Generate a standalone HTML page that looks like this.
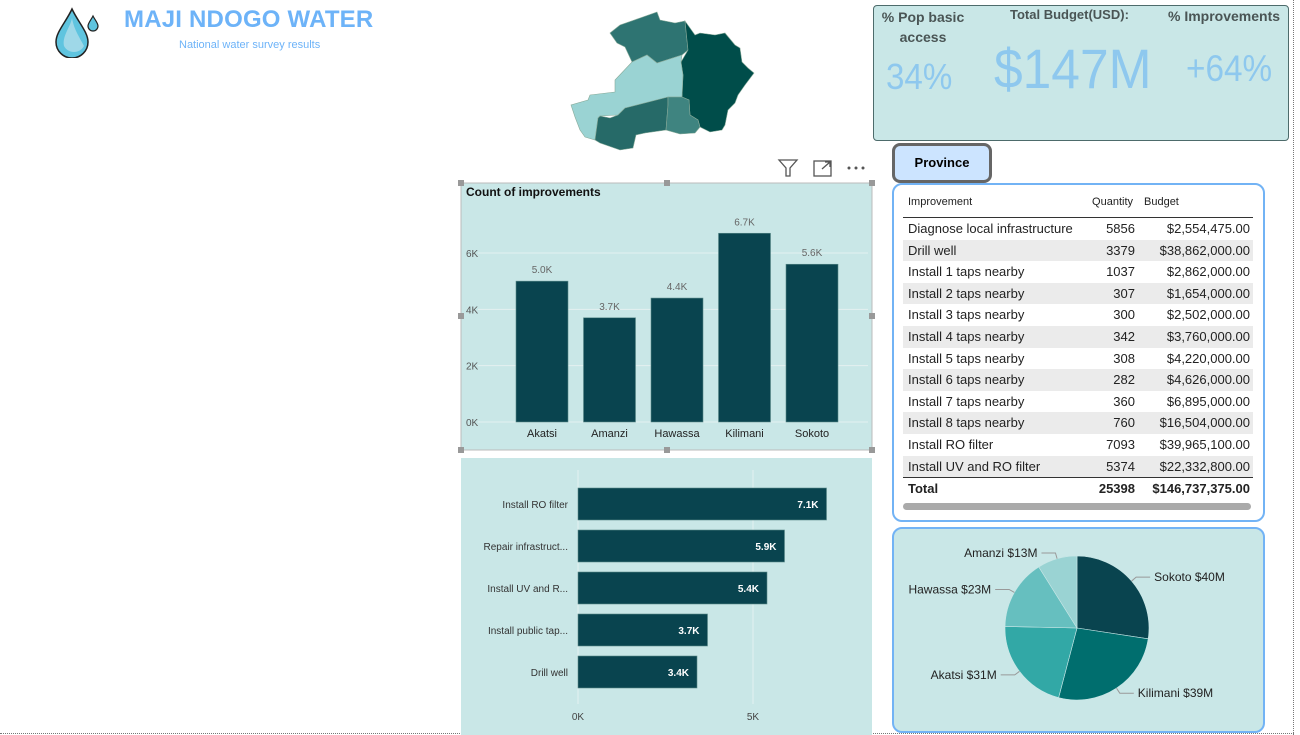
<!DOCTYPE html>
<html><head><meta charset="utf-8">
<style>
body{margin:0;width:1300px;height:735px;background:#fff;position:relative;overflow:hidden;font-family:"Liberation Sans",sans-serif;}
.abs{position:absolute}
</style></head>
<body>
<div class="abs" style="left:1293px;top:0;height:735px;border-left:1px dotted #777"></div>
<div class="abs" style="left:0;top:733px;width:1294px;border-top:1px dotted #777"></div>

<svg class="abs" style="left:50px;top:6px" width="52" height="52" viewBox="0 0 52 52">
<path d="M22 3 C16 16 6 26 6 36 A16 16 0 0 0 38 36 C38 26 28 16 22 3Z" fill="#5fc4df" stroke="#222" stroke-width="1.5"/>
<path d="M22 12 C20 22 12 30 14 40 C18 48 30 48 34 40 C30 32 24 24 22 12Z" fill="#9fd8e8"/>
<path d="M43 10 C41 14 38 17 38 20 A5 5 0 0 0 48 20 C48 17 45 14 43 10Z" fill="#5fc4df" stroke="#222" stroke-width="1.2"/>
</svg>
<div class="abs" style="left:124px;top:6px;font-size:24px;font-weight:bold;color:#6db3f8;letter-spacing:0.2px">MAJI NDOGO WATER</div>
<div class="abs" style="left:179px;top:39px;font-size:11px;color:#6db3f8">National water survey results</div>

<svg class="abs" style="left:0;top:0" width="800" height="160">
<g stroke="#8a9" stroke-width="0.6">
<polygon fill="#2e7472" points="610,33 620,25 640,18 657,12 660,20 675,23 685,21 688,50 682,55 657,63 647,55 632,62 625,47 617,43"/>
<polygon fill="#004d4a" points="685,21 695,35 700,33 715,35 725,33 735,45 740,48 742,62 748,68 754,73 745,85 738,95 735,103 728,110 725,125 722,130 710,132 700,127 698,120 690,115 689,100 682,97 683,75 681,62 688,50"/>
<polygon fill="#9ad3d3" points="682,55 681,62 683,75 682,97 668,97 668,105 625,108 618,115 600,116 598,118 595,140 585,137 580,130 575,117 571,105 588,100 590,95 615,92 615,80 632,62 647,55 657,63"/>
<polygon fill="#266a68" points="668,97 668,105 666,130 645,133 636,135 633,148 620,150 600,143 595,140 598,118 600,116 610,118 618,115 625,108"/>
<polygon fill="#3f8480" points="668,97 682,97 689,100 690,115 698,120 700,127 695,133 680,134 666,130 668,105"/>
</g>
</svg>

<div class="abs" style="left:873px;top:5px;width:414px;height:134px;background:#c9e7e7;border:1px solid #4d6b6b;border-radius:4px"></div>
<div class="abs" style="left:878px;top:7px;width:90px;font-size:14px;font-weight:bold;color:#4a5555;text-align:center;line-height:20px">% Pop basic access</div>
<div class="abs" style="left:1010px;top:7px;font-size:13px;font-weight:bold;color:#4a5555">Total Budget(USD):</div>
<div class="abs" style="left:1168px;top:8px;font-size:14px;font-weight:bold;color:#4a5555">% Improvements</div>
<div class="abs" style="left:886px;top:56px;font-size:36px;color:#8ec8ee;transform:scaleX(0.92);transform-origin:left">34%</div>
<div class="abs" style="left:994px;top:36px;font-size:56px;color:#8ec8ee;transform:scaleX(0.92);transform-origin:left">$147M</div>
<div class="abs" style="left:1186px;top:48px;font-size:37px;color:#8ec8ee;transform:scaleX(0.9);transform-origin:left">+64%</div>

<div class="abs" style="left:892px;top:143px;width:94px;height:34px;background:#cce4ff;border:3px solid #666;border-radius:8px;font-size:13px;font-weight:bold;text-align:center;line-height:34px;color:#000">Province</div>

<div class="abs" style="left:892px;top:183px;width:369px;height:335px;border:2px solid #72b3f5;border-radius:10px;background:#fff"></div>
<div id="tbl" class="abs" style="left:903px;top:190px;width:350px;font-size:13px;color:#222"></div>
<div class="abs" style="left:903px;top:503px;width:348px;height:7px;background:#aaa;border-radius:4px"></div>

<div class="abs" style="left:892px;top:527px;width:369px;height:202px;background:#c9e7e7;border:2px solid #72b3f5;border-radius:10px"></div>
<svg id="pie" class="abs" style="left:0;top:0" width="1300" height="735"></svg>

<div class="abs" style="left:776px;top:157px;width:100px;height:22px">
<svg width="100" height="22">
<path d="M3 3 H21 L14 11 V19 L10 19 V11 Z" fill="none" stroke="#555" stroke-width="1.3"/>
<g fill="none" stroke="#555" stroke-width="1.3"><rect x="38" y="4" width="17" height="15"/><path d="M46 12 L54 5 M49 5 H54 V10"/></g>
<g fill="#555"><circle cx="73" cy="11" r="1.5"/><circle cx="80" cy="11" r="1.5"/><circle cx="87" cy="11" r="1.5"/></g>
</svg></div>

<svg id="col" class="abs" style="left:0;top:0" width="1300" height="735"></svg>
<svg id="bar" class="abs" style="left:0;top:0" width="1300" height="735"></svg>

<script>
const NS="http://www.w3.org/2000/svg";
function mk(p,tag,a){const e=document.createElementNS(NS,tag);for(const k in a)e.setAttribute(k,a[k]);p.appendChild(e);return e;}
const FONT='"Liberation Sans",sans-serif';

// ---- Column chart data
const colCategories=["Akatsi","Amanzi","Hawassa","Kilimani","Sokoto"];
const colValues=[5.0,3.7,4.4,6.7,5.6];
const colLabels=["5.0K","3.7K","4.4K","6.7K","5.6K"];
const colTicks=[0,2,4,6];
const colTickLabels=["0K","2K","4K","6K"];

// ---- Bar chart data
const barCategories=["Install RO filter","Repair infrastruct...","Install UV and R...","Install public tap...","Drill well"];
const barValues=[7.1,5.9,5.4,3.7,3.4];
const barLabels=["7.1K","5.9K","5.4K","3.7K","3.4K"];
const barTicks=[0,5];
const barTickLabels=["0K","5K"];

// ---- Pie data
const pieCategories=["Sokoto","Kilimani","Akatsi","Hawassa","Amanzi"];
const pieValues=[40,39,31,23,13];
const pieLabels=["Sokoto $40M","Kilimani $39M","Akatsi $31M","Hawassa $23M","Amanzi $13M"];
const pieColors=["#09444f","#006e6e","#32a8a6","#66bfbf","#9ad3d3"];

// ---- Table data
const tblNames=["Diagnose local infrastructure","Drill well","Install 1 taps nearby","Install 2 taps nearby","Install 3 taps nearby","Install 4 taps nearby","Install 5 taps nearby","Install 6 taps nearby","Install 7 taps nearby","Install 8 taps nearby","Install RO filter","Install UV and RO filter"];
const tblQty=[5856,3379,1037,307,300,342,308,282,360,760,7093,5374];
const tblBudget=["$2,554,475.00","$38,862,000.00","$2,862,000.00","$1,654,000.00","$2,502,000.00","$3,760,000.00","$4,220,000.00","$4,626,000.00","$6,895,000.00","$16,504,000.00","$39,965,100.00","$22,332,800.00"];

// Column chart
(function(){
const s=document.getElementById('col');
const bg=mk(s,'rect',{x:461,y:183,width:411,height:267,fill:'#c9e7e7',stroke:'#bbb'});


const t=mk(s,'text',{x:466,y:196,'font-size':12,'font-weight':'bold','font-family':FONT,fill:'#111'});t.textContent='Count of improvements';


const y0=422,kpx=28.17;const Y=v=>y0-v*kpx;
colTicks.forEach((v,i)=>{
 const g=mk(s,'line',{x1:478,x2:868,y1:Y(v),y2:Y(v),stroke:'#e4f0f0','stroke-width':1});
 
 
 const l=mk(s,'text',{x:466,y:Y(v)+4,'font-size':10,'font-family':FONT,fill:'#555'});l.textContent=colTickLabels[i];
 
 
});
const x0=516,step=67.5,bw=52;
colCategories.forEach((c,i)=>{
 const x=x0+i*step;
 const r=mk(s,'rect',{x:x,y:Y(colValues[i]),width:bw,height:colValues[i]*kpx,fill:'#09444f',stroke:'#5a8a8a','stroke-width':0.6});
 
 
 const v=mk(s,'text',{x:x+bw/2,y:Y(colValues[i])-8,'font-size':10,'text-anchor':'middle','font-family':FONT,fill:'#666'});v.textContent=colLabels[i];
 
 
 const cl=mk(s,'text',{x:x+bw/2,y:437,'font-size':11,'text-anchor':'middle','font-family':FONT,fill:'#222'});cl.textContent=c;
 
 
});
[[461,183],[667,183],[872,183],[461,316],[872,316],[461,450],[667,450],[872,450]].forEach(p=>{
 const h=mk(s,'rect',{x:p[0]-3,y:p[1]-3,width:6,height:6,fill:'#999'});
 
 
});
})();

// Bar chart
(function(){
const s=document.getElementById('bar');
const bg=mk(s,'rect',{x:461,y:458,width:411,height:277,fill:'#c9e7e7'});


const x0=578,kpx=35;const X=v=>x0+v*kpx;
barTicks.forEach((v,i)=>{
 const g=mk(s,'line',{x1:X(v),x2:X(v),y1:470,y2:704,stroke:'#e4f0f0'});
 
 
 const l=mk(s,'text',{x:X(v),y:720,'font-size':10,'text-anchor':'middle','font-family':FONT,fill:'#444'});l.textContent=barTickLabels[i];
 
 
});
barCategories.forEach((c,i)=>{
 const y=488+i*42;
 const r=mk(s,'rect',{x:x0,y:y,width:barValues[i]*kpx,height:32,fill:'#09444f',stroke:'#5a8a8a','stroke-width':0.6});
 
 
 const v=mk(s,'text',{x:X(barValues[i])-8,y:y+20,'font-size':10,'font-weight':'bold','text-anchor':'end','font-family':FONT,fill:'#fff'});v.textContent=barLabels[i];
 
 
 const cl=mk(s,'text',{x:568,y:y+20,'font-size':10,'text-anchor':'end','font-family':FONT,fill:'#333'});cl.textContent=c;
 
 
});
})();

// Pie
(function(){
const s=document.getElementById('pie');
const cx=1077,cy=628,R=72;const tot=pieValues.reduce((a,b)=>a+b,0);
let a=-Math.PI/2;
pieValues.forEach((v,i)=>{
 const a2=a+v/tot*2*Math.PI;
 const p=[cx+R*Math.cos(a),cy+R*Math.sin(a),cx+R*Math.cos(a2),cy+R*Math.sin(a2)];
 const sl=mk(s,'path',{d:`M${cx},${cy} L${p[0]},${p[1]} A${R},${R} 0 ${a2-a>Math.PI?1:0} 1 ${p[2]},${p[3]} Z`,fill:pieColors[i],stroke:'#c9e7e7','stroke-width':0.6});
 
 
 const m=(a+a2)/2;const ex=cx+(R+6)*Math.cos(m),ey=cy+(R+6)*Math.sin(m);
 const right=Math.cos(m)>=0;const lx=ex+(right?14:-14);
 const ln=mk(s,'polyline',{points:`${cx+R*Math.cos(m)},${cy+R*Math.sin(m)} ${ex},${ey} ${lx},${ey}`,fill:'none',stroke:'#999','stroke-width':1});
 
 
 const t=mk(s,'text',{x:lx+(right?4:-4),y:ey+4,'font-size':12,'text-anchor':right?'start':'end','font-family':FONT,fill:'#222'});t.textContent=pieLabels[i];
 
 
 a=a2;
});
})();

// Table
(function(){
const d=document.getElementById('tbl');
let h='<div style="position:relative;height:27px;font-size:11px;border-bottom:1px solid #333">'+
'<span style="position:absolute;left:5px;top:6px">Improvement</span><span style="position:absolute;right:120px;top:6px">Quantity</span><span style="position:absolute;left:241px;top:6px">Budget</span></div>';
tblNames.forEach((n,i)=>{
 h+='<div style="position:relative;height:21.6px;line-height:21.6px;background:'+(i%2?'#ebebeb':'#fff')+'">'+
 '<span style="position:absolute;left:5px">'+n+'</span><span style="position:absolute;right:118px">'+tblQty[i]+'</span><span style="position:absolute;right:3px">'+tblBudget[i]+'</span></div>';
});
h+='<div style="position:relative;height:22px;line-height:22px;font-weight:bold;border-top:1px solid #333"><span style="position:absolute;left:5px">Total</span><span style="position:absolute;right:118px">'+tblQty.reduce((a,b)=>a+b,0)+'</span><span style="position:absolute;right:3px">$146,737,375.00</span></div>';
d.innerHTML=h;
})();
</script>
</body></html>
